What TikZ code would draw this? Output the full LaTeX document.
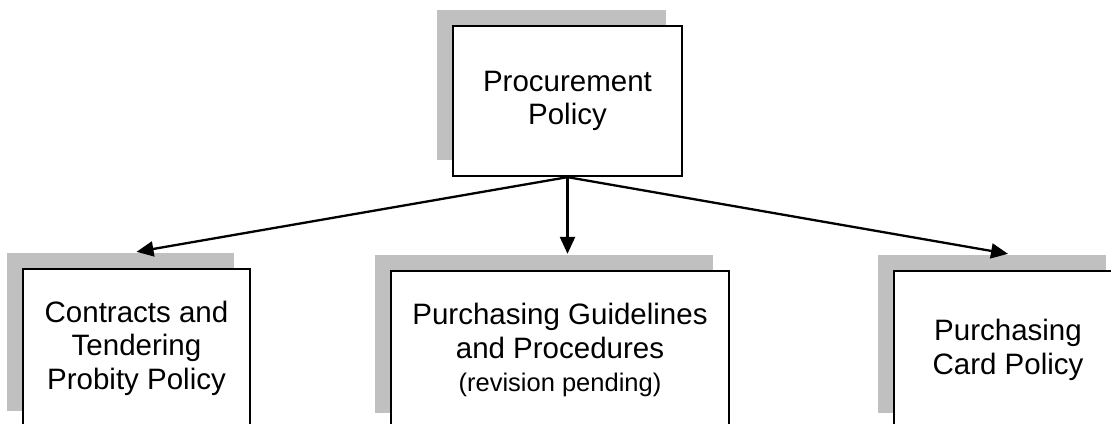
\documentclass[tikz,border=0pt]{standalone}
\usepackage{fontspec}
\setmainfont{Liberation Sans}
\usetikzlibrary{arrows.meta,shadows,calc}
\definecolor{shadowgray}{HTML}{C0C0C0}
\begin{document}
\begin{tikzpicture}[x=1pt,y=-1pt,
  policybox/.style={draw=black, line width=2.3pt, fill=white, rectangle,
    inner sep=0pt, align=center,
    font=\fontsize{29.5}{33.5}\selectfont,
    general shadow={fill=shadowgray, shadow xshift=-16pt, shadow yshift=16pt}},
  link/.style={line width=2.3pt, -{Triangle[length=17pt,width=15pt]}}]
\useasboundingbox (0,0) rectangle (1111,423);
\clip (0,0) rectangle (1111,423);

% top-level policy
\node[policybox, minimum width=229pt, minimum height=150pt] (proc) at (567.5,101)
  {Procurement\\Policy};

% subordinate policies
\node[policybox, minimum width=227pt, minimum height=158pt] (contracts) at (136.5,348)
  {Contracts and\\Tendering\\Probity Policy};
\node[policybox, minimum width=338pt, minimum height=158pt] (guide) at (560,350)
  {Purchasing Guidelines\\and Procedures\\{\fontsize{25.5}{30}\selectfont (revision pending)}};
\node[policybox, minimum width=228pt, minimum height=158pt] (card) at (1008,350)
  {Purchasing\\Card Policy};

% arrow targets on top of each shadow
\coordinate (contractsTop) at ($(contracts.north)+(0,-16)$);
\coordinate (guideTop) at ($(guide.north)+(0,-16)$);
\coordinate (cardTop) at ($(card.north)+(0,-16)$);

\draw[link] (proc.south) -- (contractsTop);
\draw[link] (proc.south) -- (proc.south |- guideTop);
\draw[link] (proc.south) -- (cardTop);
\end{tikzpicture}
\end{document}
